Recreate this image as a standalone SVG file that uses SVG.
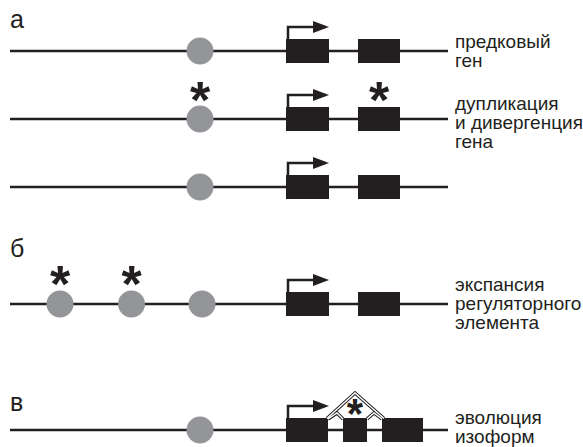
<svg xmlns="http://www.w3.org/2000/svg" width="583" height="447" viewBox="0 0 583 447">
<defs>
<style>
.dna{stroke:#231f20;stroke-width:2.5;fill:none}
.reg{fill:#939598}
.exon{fill:#231f20}
.tss{stroke:#231f20;stroke-width:2.5;fill:none}
.head{fill:#231f20}
.lbl{font-family:"Liberation Sans",Arial,sans-serif;font-size:19px;fill:#231f20}
.sec{font-family:"Liberation Sans",Arial,sans-serif;font-size:25px;fill:#231f20}
.ast{font-family:"Liberation Sans",Arial,sans-serif;font-size:52px;font-weight:bold;fill:#231f20;text-anchor:middle}
</style>
<g id="tssArrow">
<path class="tss" d="M288,12 V0 H315"/>
<polygon class="head" points="313,-6 329,0 313,6"/>
</g>
</defs>
<rect width="583" height="447" fill="#ffffff"/>

<text class="sec" x="10" y="28">а</text>
<text class="sec" x="10" y="257">б</text>
<text class="sec" x="10" y="411">в</text>

<g id="connectors">
<line class="dna" x1="10" y1="51" x2="448" y2="51"/>
<line class="dna" x1="10" y1="119" x2="448" y2="119"/>
<line class="dna" x1="10" y1="187" x2="448" y2="187"/>
<line class="dna" x1="10" y1="304" x2="448" y2="304"/>
<line class="dna" x1="10" y1="430" x2="448" y2="430"/>
</g>

<g id="row-a1">
<circle class="reg" cx="200" cy="51" r="13.5"/>
<rect class="exon" x="286" y="39" width="43" height="24"/>
<rect class="exon" x="358" y="39" width="42" height="24"/>
<use href="#tssArrow" y="27"/>
<text class="lbl" x="455" y="48">предковый</text>
<text class="lbl" x="455" y="67">ген</text>
</g>

<g id="row-a2">
<circle class="reg" cx="200" cy="119" r="13.5"/>
<rect class="exon" x="286" y="107" width="43" height="24"/>
<rect class="exon" x="358" y="107" width="42" height="24"/>
<use href="#tssArrow" y="95"/>
<text class="ast" x="200" y="118">*</text>
<text class="ast" x="379" y="118">*</text>
<text class="lbl" x="455" y="110">дупликация</text>
<text class="lbl" x="455" y="129">и дивергенция</text>
<text class="lbl" x="455" y="148">гена</text>
</g>

<g id="row-a3">
<circle class="reg" cx="200" cy="187" r="13.5"/>
<rect class="exon" x="286" y="175" width="43" height="24"/>
<rect class="exon" x="358" y="175" width="42" height="24"/>
<use href="#tssArrow" y="163"/>
</g>

<g id="row-b">
<circle class="reg" cx="60" cy="304" r="13.5"/>
<circle class="reg" cx="131.5" cy="304" r="13.5"/>
<circle class="reg" cx="202" cy="304" r="13.5"/>
<rect class="exon" x="286" y="292" width="43" height="24"/>
<rect class="exon" x="358" y="292" width="42" height="24"/>
<use href="#tssArrow" y="280"/>
<text class="ast" x="60" y="302">*</text>
<text class="ast" x="131.5" y="302">*</text>
<text class="lbl" x="455" y="291">экспансия</text>
<text class="lbl" x="455" y="310">регуляторного</text>
<text class="lbl" x="455" y="329">элемента</text>
</g>

<g id="row-c">
<circle class="reg" cx="200" cy="430" r="13.5"/>
<rect class="exon" x="286" y="418" width="42" height="24"/>
<rect class="exon" x="343" y="418" width="24" height="24"/>
<rect class="exon" x="382" y="418" width="41" height="24"/>
<use href="#tssArrow" y="406"/>
<g id="splicing">
<path d="M327,418.5 L355,393 L384,418.5 M328,419 L337,413 L343,419 M367,419 L374,413 L382,419" stroke="#231f20" stroke-width="3.4" fill="none" stroke-linejoin="miter"/>
<path d="M327,418.5 L355,393 L384,418.5 M328,419 L337,413 L343,419 M367,419 L374,413 L382,419" stroke="#ffffff" stroke-width="1.4" fill="none" stroke-linejoin="miter"/>
</g>
<text class="ast" x="355" y="428" style="font-size:42px">*</text>
<text class="lbl" x="455" y="424">эволюция</text>
<text class="lbl" x="455" y="443">изоформ</text>
</g>
</svg>
